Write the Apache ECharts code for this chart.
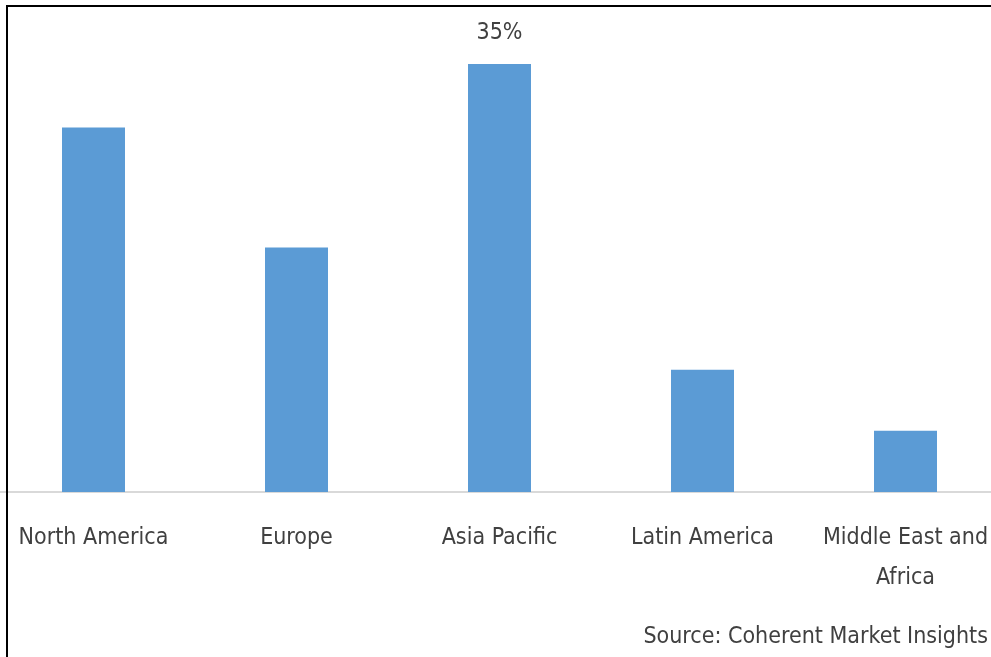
<!DOCTYPE html>
<html>
<head>
<meta charset="utf-8">
<script src="https://cdn.jsdelivr.net/npm/echarts@6/dist/echarts.min.js"></script>
<style>html,body{margin:0;padding:0;background:#fff;overflow:hidden;width:991px;height:657px}#c{position:absolute;left:-8px;top:0;width:1015px;height:657px}</style>
</head>
<body>
<div id="c"></div>
<script>
const categories = ['North America', 'Europe', 'Asia Pacific', 'Latin America', 'Middle East and Africa'];
const shareValues = [29.8, 20, 35, 10, 5];
const labeledCategory = 'Asia Pacific';
const sourceText = 'Source: Coherent Market Insights';

const chart = echarts.init(document.getElementById('c'), null, {renderer: 'canvas'});
const font = '"DejaVu Sans Condensed", "DejaVu Sans", sans-serif';
chart.setOption({
  animation: false,
  backgroundColor: '#fff',
  grid: {left: 0, right: 0, top: 64, bottom: 165, containLabel: false},
  xAxis: {
    type: 'category',
    data: categories,
    axisLine: {lineStyle: {color: '#d9d9d9', width: 2}},
    axisTick: {show: false},
    axisLabel: {
      interval: 0,
      margin: 26,
      color: '#404040',
      fontFamily: font,
      fontSize: 23,
      lineHeight: 40,
      formatter: v => v === 'Middle East and Africa' ? 'Middle East and\nAfrica' : v
    }
  },
  yAxis: {type: 'value', min: 0, max: 35, show: false, splitLine: {show: false}},
  series: [{
    type: 'bar',
    barWidth: 63,
    data: shareValues.map((v, i) => ({
      value: v,
      label: {show: categories[i] === labeledCategory}
    })),
    itemStyle: {color: '#5b9bd5'},
    label: {
      position: 'top',
      distance: 19,
      color: '#404040',
      fontFamily: font,
      fontSize: 23,
      formatter: p => p.value + '%'
    }
  }],
  graphic: [
    {type: 'rect', shape: {x: 15, y: 6, width: 1100, height: 700}, style: {fill: 'none', stroke: '#000', lineWidth: 2}, z: 100},
    {type: 'text', right: 19, top: 626, style: {text: sourceText, fill: '#404040', font: '23px ' + font}}
  ]
});
</script>
</body>
</html>
